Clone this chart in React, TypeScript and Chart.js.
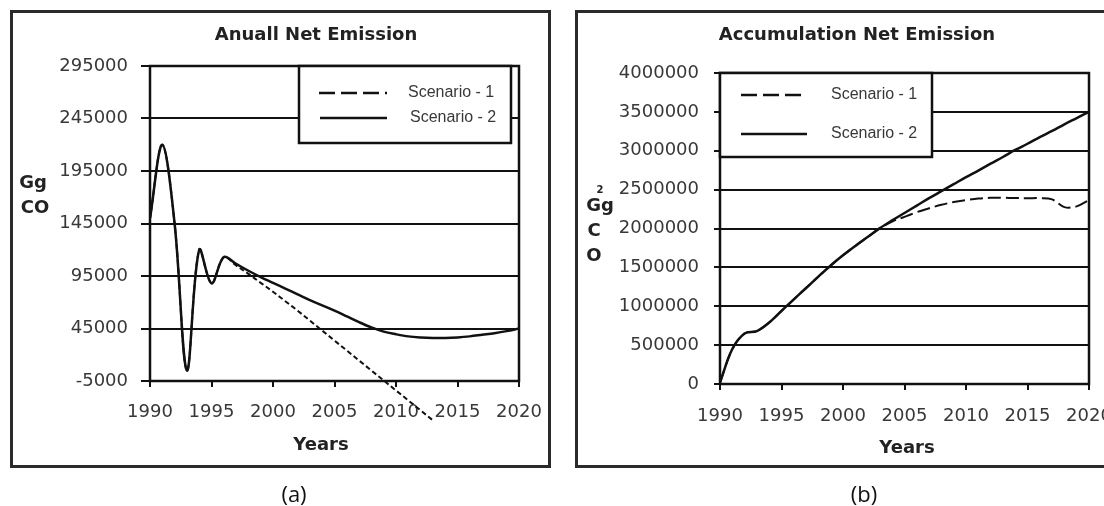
import React, { useEffect, useRef } from "react";
import { Chart, registerables } from "chart.js";

Chart.register(...registerables);

// ---------------- data ----------------
const years = [
  1990, 1991, 1992, 1993, 1994, 1995, 1996, 1997, 1998, 1999, 2000,
  2001, 2002, 2003, 2004, 2005, 2006, 2007, 2008, 2009, 2010,
  2011, 2012, 2013, 2014, 2015, 2016, 2017, 2018, 2019, 2020,
];
const xTickYears = [1990, 1995, 2000, 2005, 2010, 2015, 2020];
const annualTicks = [-5000, 45000, 95000, 145000, 195000, 245000, 295000];
const accumTicks = [0, 500000, 1000000, 1500000, 2000000, 2500000, 3000000, 3500000, 4000000];

// Annual net emission (Gg CO2), 1990-2013 for scenario 1 (line leaves the plot)
const annualScenario1 = [
  150000, 220000, 145000, 5000, 120000, 88000, 113000, 105000, 97000, 88500,
  80000, 71000, 62000, 52500, 43000, 33500, 24000, 14500, 5000, -4500,
  -14000, -23500, -33000, -42500,
];
const annualScenario2 = [
  150000, 220000, 145000, 5000, 120000, 88000, 113000, 106500, 100000, 94000,
  88500, 83000, 77500, 72000, 67000, 62000, 56500, 51000, 46000, 42000,
  39500, 37500, 36500, 36000, 36000, 36500, 37500, 39000, 40500, 42500,
  45000,
];
// Accumulated net emission (Gg CO2)
const accumScenario1 = [
  20000, 450000, 650000, 680000, 790000, 940000, 1088000, 1235000, 1382000, 1525000,
  1655000, 1775000, 1890000, 2005000, 2090000, 2150000, 2210000, 2260000, 2305000, 2340000,
  2365000, 2385000, 2395000, 2395000, 2392000, 2390000, 2390000, 2375000, 2275000, 2285000,
  2365000,
];
const accumScenario2 = [
  20000, 450000, 650000, 680000, 790000, 940000, 1088000, 1235000, 1382000, 1525000,
  1655000, 1775000, 1890000, 2005000, 2105000, 2200000, 2295000, 2390000, 2480000, 2570000,
  2660000, 2745000, 2835000, 2920000, 3010000, 3090000, 3175000, 3255000, 3340000, 3420000,
  3500000,
];
const seriesLabels = ["Scenario - 1", "Scenario - 2"];
const titles = ["Anuall Net Emission", "Accumulation Net Emission"];
const xTitle = "Years";
const captions = ["(a)", "(b)"];

// ---------------- styling / layout ----------------
const INK = "#111111";
const TEXT = "#383838";
const TICK_FONT = { family: '"DejaVu Sans"', size: 18 };

type Row = { y: number; sx0: number; sx1: number; tx: number };
type Layout = {
  canvasLeft: number;
  padding: { left: number; top: number; right: number; bottom: number };
  yWidth: number;
  xHeight: number;
  yTickLen: number;
  yTickPad: number;
  xTickPad: number;
  title: [number, number];
  xTitle: [number, number];
  yLabel: { text: string; x: number; y: number; size: number }[];
  legendBox: [number, number, number, number];
  rows: Row[];
  dash: number[];
  legendDash: number[];
  clipS1: boolean;
};

const layoutA: Layout = {
  canvasLeft: 0,
  padding: { left: 0, top: 66, right: 33, bottom: 39 },
  yWidth: 150,
  xHeight: 60,
  yTickLen: 9,
  yTickPad: 13,
  xTickPad: 15,
  title: [316, 35],
  xTitle: [321, 445],
  yLabel: [
    { text: "Gg", x: 33, y: 183, size: 18 },
    { text: "CO", x: 35, y: 208, size: 18 },
  ],
  legendBox: [299, 66, 511, 143],
  rows: [
    { y: 93, sx0: 319, sx1: 387, tx: 408 },
    { y: 118, sx0: 320, sx1: 387, tx: 410 },
  ],
  dash: [5, 3],
  legendDash: [16, 6],
  clipS1: false,
};

const layoutB: Layout = {
  canvasLeft: 552,
  padding: { left: 0, top: 73, right: 15, bottom: 36 },
  yWidth: 168,
  xHeight: 60,
  yTickLen: 6,
  yTickPad: 15,
  xTickPad: 16,
  title: [305, 35],
  xTitle: [355, 448],
  yLabel: [
    { text: "2", x: 48, y: 190, size: 10 },
    { text: "Gg", x: 48, y: 206, size: 18 },
    { text: "C", x: 42, y: 231, size: 18 },
    { text: "O", x: 42, y: 256, size: 18 },
  ],
  legendBox: [168, 73, 380, 157],
  rows: [
    { y: 95, sx0: 189, sx1: 254, tx: 279 },
    { y: 134, sx0: 189, sx1: 255, tx: 279 },
  ],
  dash: [13, 5],
  legendDash: [16, 6],
  clipS1: true,
};

function decorPlugin(L: Layout, title: string) {
  return {
    id: "decor",
    afterDraw(chart: any) {
      const ctx: CanvasRenderingContext2D = chart.ctx;
      const a = chart.chartArea;
      ctx.save();
      ctx.setLineDash([]);
      ctx.strokeStyle = INK;
      ctx.lineWidth = 2.5;
      ctx.strokeRect(a.left, a.top, a.right - a.left, a.bottom - a.top);

      // legend
      const [x0, y0, x1, y1] = L.legendBox;
      ctx.fillStyle = "#ffffff";
      ctx.fillRect(x0, y0, x1 - x0, y1 - y0);
      ctx.strokeRect(x0, y0, x1 - x0, y1 - y0);
      chart.data.datasets.forEach((ds: any, i: number) => {
        const r = L.rows[i];
        ctx.beginPath();
        ctx.setLineDash(i === 0 ? L.legendDash : []);
        ctx.lineWidth = 2.5;
        ctx.moveTo(r.sx0, r.y);
        ctx.lineTo(r.sx1, r.y);
        ctx.stroke();
        ctx.setLineDash([]);
        ctx.fillStyle = TEXT;
        ctx.font = '16px "Liberation Sans"';
        ctx.textAlign = "left";
        ctx.textBaseline = "middle";
        ctx.fillText(ds.label, r.tx, r.y);
      });

      // title
      ctx.fillStyle = "#222";
      ctx.font = 'bold 18px "DejaVu Sans"';
      ctx.textAlign = "center";
      ctx.textBaseline = "middle";
      ctx.fillText(title, L.title[0], L.title[1]);
      // x title
      ctx.fillText(xTitle, L.xTitle[0], L.xTitle[1]);
      // y label
      L.yLabel.forEach((t) => {
        ctx.font = `bold ${t.size}px "DejaVu Sans"`;
        ctx.fillText(t.text, t.x, t.y);
      });
      ctx.restore();
    },
  };
}

type PanelProps = {
  L: Layout;
  title: string;
  s1: number[];
  s2: number[];
  yTicks: number[];
};

function Panel({ L, title, s1, s2, yTicks }: PanelProps) {
  const ref = useRef<HTMLCanvasElement>(null);
  useEffect(() => {
    const yMin = yTicks[0];
    const yMax = yTicks[yTicks.length - 1];
    const chart = new Chart(ref.current as HTMLCanvasElement, {
      type: "line",
      data: {
        datasets: [
          {
            label: seriesLabels[0],
            data: s1.map((v, i) => ({ x: years[i], y: v })),
            borderColor: INK,
            borderWidth: 2,
            borderDash: L.dash,
            pointRadius: 0,
            tension: 0.35,
            fill: false,
            clip: L.clipS1 ? undefined : (false as any),
          },
          {
            label: seriesLabels[1],
            data: s2.map((v, i) => ({ x: years[i], y: v })),
            borderColor: INK,
            borderWidth: 2.5,
            pointRadius: 0,
            tension: 0.35,
            fill: false,
          },
        ],
      },
      options: {
        responsive: false,
        animation: false,
        events: [],
        layout: { padding: L.padding },
        plugins: {
          legend: { display: false },
          title: { display: false },
          tooltip: { enabled: false },
        },
        scales: {
          x: {
            type: "linear",
            min: 1990,
            max: 2020,
            border: { display: false },
            grid: {
              drawOnChartArea: false,
              drawTicks: true,
              tickLength: 6,
              color: INK,
              lineWidth: 2,
            },
            ticks: {
              color: TEXT,
              font: TICK_FONT,
              padding: L.xTickPad,
              autoSkip: false,
              maxRotation: 0,
              minRotation: 0,
              callback: (v: any) => String(v),
            },
            afterBuildTicks: (scale: any) => {
              scale.ticks = xTickYears.map((v) => ({ value: v }));
            },
            afterFit: (scale: any) => {
              scale.height = L.xHeight;
              scale.paddingLeft = 0;
              scale.paddingRight = 0;
            },
          },
          y: {
            type: "linear",
            min: yMin,
            max: yMax,
            border: { display: false },
            grid: {
              drawOnChartArea: true,
              drawTicks: true,
              tickLength: L.yTickLen,
              color: INK,
              lineWidth: 2,
            },
            ticks: {
              color: TEXT,
              font: TICK_FONT,
              padding: L.yTickPad,
              callback: (v: any) => String(v),
            },
            afterBuildTicks: (scale: any) => {
              scale.ticks = yTicks.map((v) => ({ value: v }));
            },
            afterFit: (scale: any) => {
              scale.width = L.yWidth;
              scale.paddingTop = 0;
              scale.paddingBottom = 0;
            },
          },
        },
      },
      plugins: [decorPlugin(L, title)],
    } as any);
    return () => chart.destroy();
  }, []);
  return (
    <canvas
      ref={ref}
      width={552}
      height={480}
      style={{ position: "absolute", left: L.canvasLeft, top: 0, width: 552, height: 480 }}
    />
  );
}

const frameStyle = (left: number, width: number): React.CSSProperties => ({
  position: "absolute",
  left,
  top: 10,
  width,
  height: 458,
  boxSizing: "border-box",
  border: "3px solid #2a2a2a",
});

const captionStyle = (cx: number): React.CSSProperties => ({
  position: "absolute",
  left: cx - 50,
  top: 480,
  width: 100,
  height: 26,
  lineHeight: "26px",
  textAlign: "center",
  fontFamily: '"Open Sans", sans-serif',
  fontSize: 22,
  color: "#111",
});

export default function App() {
  return (
    <div
      style={{
        position: "fixed",
        left: 0,
        top: 0,
        width: 1104,
        height: 506,
        overflow: "hidden",
        background: "#ffffff",
      }}
    >
      <div style={frameStyle(10, 541)} />
      <div style={frameStyle(575, 600)} />
      <Panel L={layoutA} title={titles[0]} s1={annualScenario1} s2={annualScenario2} yTicks={annualTicks} />
      <Panel L={layoutB} title={titles[1]} s1={accumScenario1} s2={accumScenario2} yTicks={accumTicks} />
      <div style={captionStyle(294)}>{captions[0]}</div>
      <div style={captionStyle(864)}>{captions[1]}</div>
    </div>
  );
}
